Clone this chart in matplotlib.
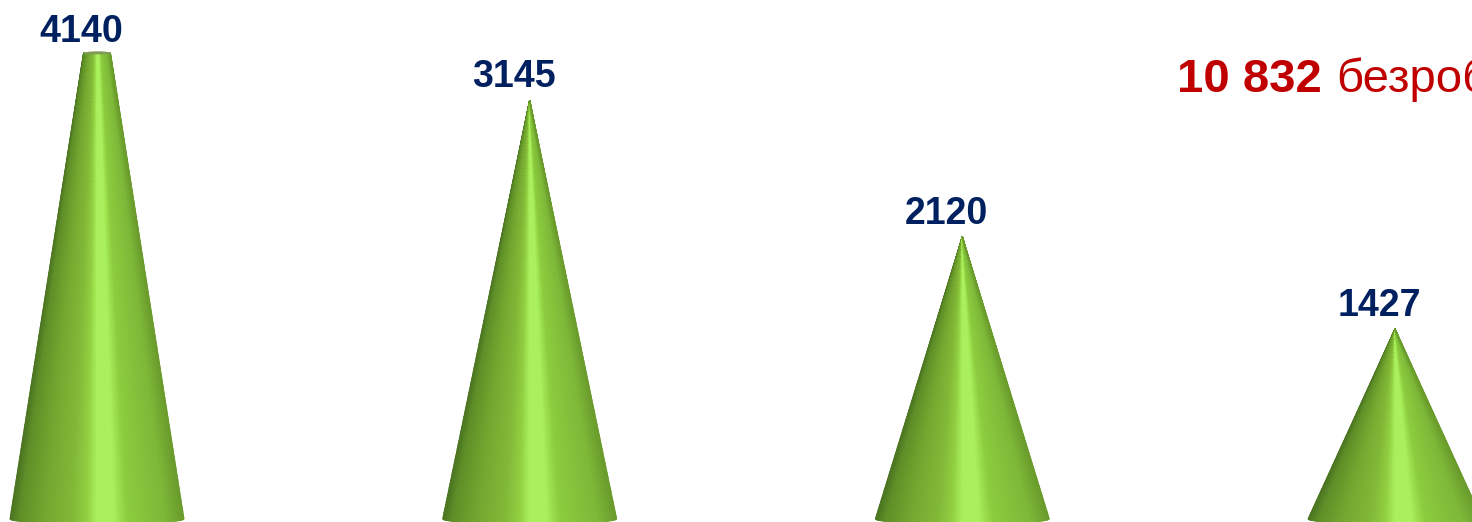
# Cone chart with clipped first cone
import numpy as np
import matplotlib
matplotlib.use('Agg')
import matplotlib.pyplot as plt
from matplotlib.colors import LinearSegmentedColormap

plt.rcParams['font.family'] = ['Liberation Sans', 'DejaVu Sans']

# ==================== DATA ====================
CATEGORIES = [0, 1, 2, 3]
VALUES = [4140, 3145, 2120, 1427]
VALUE_AXIS_MAX = 3500  # first cone is cut off at the axis maximum
TOTAL_TEXT = '10 832'
TOTAL_UNIT = 'безробітних'
# ==============================================

WIDTH, HEIGHT = 1472, 522
X0_PX, X_STEP_PX = 97, 432.67
Y0_PX, Y_SCALE_PX = 519, 0.1332
HALF_WIDTH = 87 / X_STEP_PX
ELLIPSE = 5 / Y_SCALE_PX

# shading across the cone, left edge to right edge
cone_cmap = LinearSegmentedColormap.from_list('cone', [
    (0.00, '#4c7522'),
    (0.05, '#5f8f28'),
    (0.20, '#74a830'),
    (0.36, '#83ba38'),
    (0.44, '#92d042'),
    (0.50, '#aaf05c'),
    (0.60, '#aaf05c'),
    (0.68, '#8ccc3e'),
    (0.90, '#7db838'),
    (1.00, '#6a9c2c'),
])


def draw_cone(ax, xc, value):
    """Draw one cone as a mesh whose shading runs towards the apex"""
    top = min(value, VALUE_AXIS_MAX)
    u = np.linspace(-1, 1, 161)
    t = np.linspace(0, top / value, 120)
    uu, tt = np.meshgrid(u, t)
    radius = 1 - tt
    xx = xc + uu * HALF_WIDTH * radius
    # the front of the base sags below zero, following an ellipse
    yy = tt * value - ELLIPSE * radius * np.sqrt(1 - uu ** 2)
    ax.pcolormesh(xx, yy, (uu + 1) / 2, cmap=cone_cmap, vmin=0, vmax=1,
                  shading='gouraud', rasterized=True)
    if value > VALUE_AXIS_MAX:
        # rounded darker rim on the cut top
        r = 1 - top / value
        yy_cap = top + 2 / Y_SCALE_PX * np.sqrt(1 - u ** 2)
        ax.fill_between(xc + u * HALF_WIDTH * r, top - 1 / Y_SCALE_PX, yy_cap,
                        color='#7f9a55', lw=0)


fig = plt.figure(figsize=(WIDTH / 100, HEIGHT / 100), dpi=100)
ax = fig.add_axes([0, 0, 1, 1])
ax.set_xlim(-X0_PX / X_STEP_PX, (WIDTH - X0_PX) / X_STEP_PX)
ax.set_ylim((Y0_PX - HEIGHT) / Y_SCALE_PX, Y0_PX / Y_SCALE_PX)
ax.axis('off')

for xc, value in zip(CATEGORIES, VALUES):
    draw_cone(ax, xc, value)
    top = min(value, VALUE_AXIS_MAX)
    gap = 11 if value > VALUE_AXIS_MAX else 13
    ax.text(xc - 15.5 / X_STEP_PX, top + gap / Y_SCALE_PX, str(value),
            ha='center', va='baseline', fontsize=27, fontweight='bold', color='#002060')

fig.text(1177 / WIDTH, 1 - 92 / HEIGHT, TOTAL_TEXT, ha='left', va='baseline',
         fontsize=34, fontweight='bold', color='#c00000')
fig.text(1336 / WIDTH, 1 - 92 / HEIGHT, TOTAL_UNIT, ha='left', va='baseline',
         fontsize=34, color='#c00000')

fig.savefig('out.png', dpi=100)
